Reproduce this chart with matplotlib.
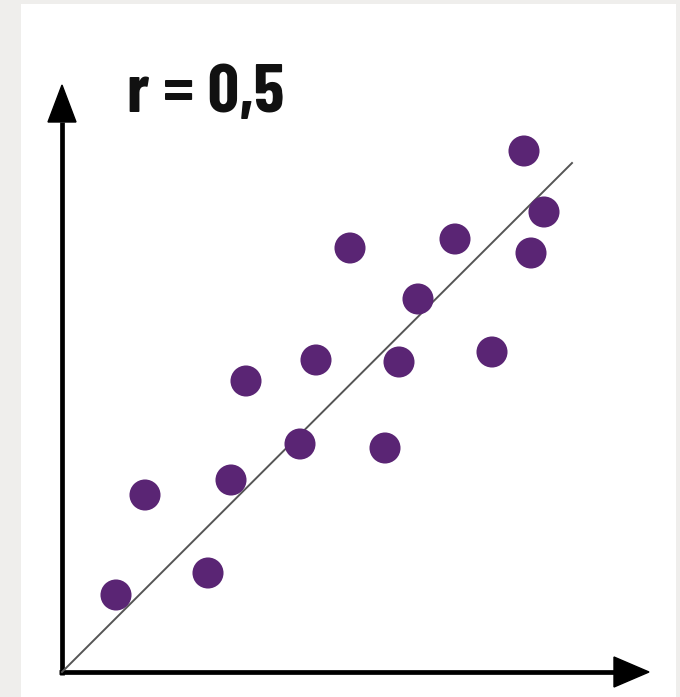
import matplotlib
matplotlib.use("Agg")
import matplotlib.pyplot as plt
from matplotlib.patches import Rectangle, Polygon

# Data (units: arbitrary)
x_vals = [1.08, 1.66, 2.92, 3.38, 3.68, 4.76, 5.08, 5.76, 6.46, 6.74, 7.12, 7.86, 8.60, 9.24, 9.38, 9.64]
y_vals = [1.54, 3.54, 1.98, 3.84, 5.82, 4.56, 6.24, 8.48, 4.48, 6.20, 7.46, 8.66, 6.40, 10.42, 8.38, 9.20]
fit_x = [0.0, 10.2]
fit_y = [0.0, 10.18]
label = "r = 0,5"

W, H = 680, 697
fig = plt.figure(figsize=(W / 100, H / 100), dpi=100)
fig.patch.set_facecolor("#efeeec")
ax = fig.add_axes([0, 0, 1, 1])
scale = 50.0
ox, oy = 62, 672
ax.set_xlim(-ox / scale, (W - ox) / scale)
ax.set_ylim(-(H - oy) / scale, oy / scale)
ax.axis("off")
ax.set_facecolor("none")

# white panel
ax.add_patch(Rectangle(((21 - ox) / scale, -(H - oy) / scale), (676 - 21) / scale,
                       (H - 4) / scale, facecolor="white", edgecolor="none", zorder=0))

# axes lines
lw = 3.4
ax.plot([-0.06, 11.04], [0, 0], color="black", lw=lw, solid_capstyle="butt", zorder=2)
ax.plot([0, 0], [-0.06, 11.0], color="black", lw=lw, solid_capstyle="butt", zorder=2)
# arrowheads
ax.add_patch(Polygon([[11.04, -0.3], [11.74, 0.0], [11.04, 0.3]], closed=True, color="black", zorder=2))
ax.add_patch(Polygon([[-0.28, 11.0], [0.0, 11.74], [0.28, 11.0]], closed=True, color="black", zorder=2))

# fit line
ax.plot(fit_x, fit_y, color="#555555", lw=1.4, zorder=3)

# points
ax.scatter(x_vals, y_vals, s=500, color="#5a2574", edgecolors="none", zorder=4)

ax.text(1.3, 11.2, label, fontsize=50, fontweight="bold",
        family=["Barlow Condensed", "Fjalla One", "DejaVu Sans"],
        ha="left", va="baseline", color="#111111", zorder=5)

fig.savefig("out.png", dpi=100, facecolor=fig.get_facecolor())
